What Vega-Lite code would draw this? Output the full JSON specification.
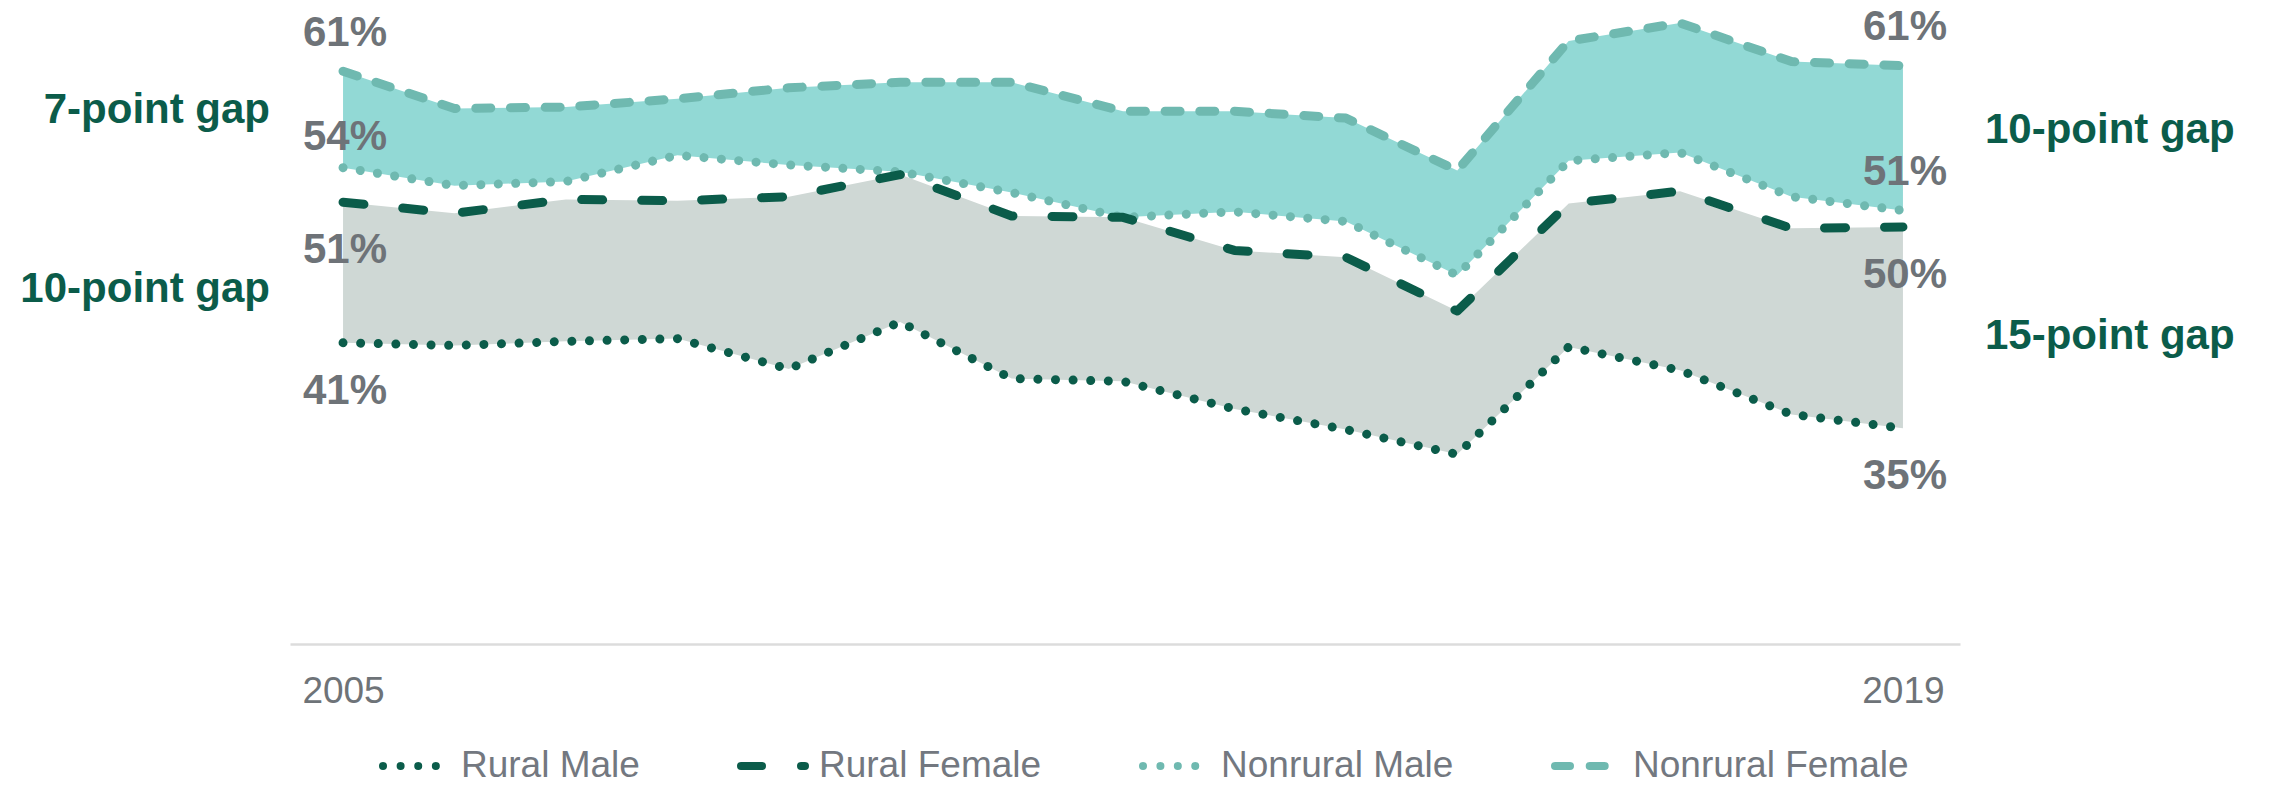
{
  "$schema": "https://vega.github.io/schema/vega-lite/v6.json",
  "width": 1670,
  "height": 644,
  "autosize": {"type": "none"},
  "padding": {"left": 290, "top": 0, "right": 309, "bottom": 142},
  "background": "white",
  "config": {"view": {"stroke": null}, "font": "Liberation Sans"},
  "datasets": {
    "rates": [
      {"year": 2005, "series": "Nonrural Female", "value": 0.609},
      {"year": 2006, "series": "Nonrural Female", "value": 0.582},
      {"year": 2007, "series": "Nonrural Female", "value": 0.583},
      {"year": 2008, "series": "Nonrural Female", "value": 0.589},
      {"year": 2009, "series": "Nonrural Female", "value": 0.597},
      {"year": 2010, "series": "Nonrural Female", "value": 0.601},
      {"year": 2011, "series": "Nonrural Female", "value": 0.601},
      {"year": 2012, "series": "Nonrural Female", "value": 0.580},
      {"year": 2013, "series": "Nonrural Female", "value": 0.580},
      {"year": 2014, "series": "Nonrural Female", "value": 0.575},
      {"year": 2015, "series": "Nonrural Female", "value": 0.537},
      {"year": 2016, "series": "Nonrural Female", "value": 0.631},
      {"year": 2017, "series": "Nonrural Female", "value": 0.644},
      {"year": 2018, "series": "Nonrural Female", "value": 0.616},
      {"year": 2019, "series": "Nonrural Female", "value": 0.613},
      {"year": 2005, "series": "Nonrural Male", "value": 0.539},
      {"year": 2006, "series": "Nonrural Male", "value": 0.526},
      {"year": 2007, "series": "Nonrural Male", "value": 0.529},
      {"year": 2008, "series": "Nonrural Male", "value": 0.548},
      {"year": 2009, "series": "Nonrural Male", "value": 0.541},
      {"year": 2010, "series": "Nonrural Male", "value": 0.536},
      {"year": 2011, "series": "Nonrural Male", "value": 0.521},
      {"year": 2012, "series": "Nonrural Male", "value": 0.503},
      {"year": 2013, "series": "Nonrural Male", "value": 0.507},
      {"year": 2014, "series": "Nonrural Male", "value": 0.500},
      {"year": 2015, "series": "Nonrural Male", "value": 0.461},
      {"year": 2016, "series": "Nonrural Male", "value": 0.544},
      {"year": 2017, "series": "Nonrural Male", "value": 0.550},
      {"year": 2018, "series": "Nonrural Male", "value": 0.518},
      {"year": 2019, "series": "Nonrural Male", "value": 0.508},
      {"year": 2005, "series": "Rural Female", "value": 0.514},
      {"year": 2006, "series": "Rural Female", "value": 0.506},
      {"year": 2007, "series": "Rural Female", "value": 0.516},
      {"year": 2008, "series": "Rural Female", "value": 0.515},
      {"year": 2009, "series": "Rural Female", "value": 0.518},
      {"year": 2010, "series": "Rural Female", "value": 0.534},
      {"year": 2011, "series": "Rural Female", "value": 0.504},
      {"year": 2012, "series": "Rural Female", "value": 0.503},
      {"year": 2013, "series": "Rural Female", "value": 0.479},
      {"year": 2014, "series": "Rural Female", "value": 0.474},
      {"year": 2015, "series": "Rural Female", "value": 0.435},
      {"year": 2016, "series": "Rural Female", "value": 0.513},
      {"year": 2017, "series": "Rural Female", "value": 0.522},
      {"year": 2018, "series": "Rural Female", "value": 0.495},
      {"year": 2019, "series": "Rural Female", "value": 0.496},
      {"year": 2005, "series": "Rural Male", "value": 0.412},
      {"year": 2006, "series": "Rural Male", "value": 0.410},
      {"year": 2007, "series": "Rural Male", "value": 0.413},
      {"year": 2008, "series": "Rural Male", "value": 0.415},
      {"year": 2009, "series": "Rural Male", "value": 0.393},
      {"year": 2010, "series": "Rural Male", "value": 0.427},
      {"year": 2011, "series": "Rural Male", "value": 0.386},
      {"year": 2012, "series": "Rural Male", "value": 0.384},
      {"year": 2013, "series": "Rural Male", "value": 0.364},
      {"year": 2014, "series": "Rural Male", "value": 0.349},
      {"year": 2015, "series": "Rural Male", "value": 0.331},
      {"year": 2016, "series": "Rural Male", "value": 0.409},
      {"year": 2017, "series": "Rural Male", "value": 0.392},
      {"year": 2018, "series": "Rural Male", "value": 0.360},
      {"year": 2019, "series": "Rural Male", "value": 0.350}
    ],
    "gaps": [
      {"year": 2005, "side": "left", "value": 0.5807, "label": "7-point gap"},
      {"year": 2005, "side": "left", "value": 0.4512, "label": "10-point gap"},
      {"year": 2019, "side": "right", "value": 0.5667, "label": "10-point gap"},
      {"year": 2019, "side": "right", "value": 0.4169, "label": "15-point gap"}
    ]
  },
  "data": {"name": "rates"},
  "layer": [
    {
      "transform": [{"pivot": "series", "value": "value", "groupby": ["year"]}],
      "mark": {"type": "area", "color": "#cfd8d5", "opacity": 1},
      "encoding": {
        "x": {
          "field": "year", "type": "quantitative",
          "scale": {"domain": [2004.524, 2019.512], "nice": false, "zero": false},
          "axis": {
            "values": [2005, 2019], "format": "d", "title": null, "grid": false,
            "ticks": false, "tickSize": 0, "labelFontSize": 37, "labelColor": "#6e7378",
            "labelFont": "Liberation Sans", "labelPadding": 29, "labelFlush": false,
            "domainColor": "#dcdcdc", "domainWidth": 2.5
          }
        },
        "y": {
          "field": "Rural Female", "type": "quantitative",
          "scale": {"domain": [0.1934, 0.6607], "nice": false, "zero": false},
          "axis": null
        },
        "y2": {"field": "Rural Male"}
      }
    },
    {
      "transform": [{"pivot": "series", "value": "value", "groupby": ["year"]}],
      "mark": {"type": "area", "color": "#92d9d5", "opacity": 1},
      "encoding": {
        "x": {"field": "year", "type": "quantitative"},
        "y": {"field": "Nonrural Female", "type": "quantitative"},
        "y2": {"field": "Nonrural Male"}
      }
    },
    {
      "mark": {"type": "line", "strokeWidth": 9, "strokeCap": "round", "strokeJoin": "round"},
      "encoding": {
        "x": {"field": "year", "type": "quantitative"},
        "y": {"field": "value", "type": "quantitative"},
        "color": {
          "field": "series", "type": "nominal",
          "scale": {
            "domain": ["Rural Male", "Rural Female", "Nonrural Male", "Nonrural Female"],
            "range": ["#0b5c4a", "#0b5c4a", "#6fb9b0", "#6fb9b0"]
          },
          "legend": {
            "title": null, "orient": "none", "legendX": 89, "legendY": 730,
            "direction": "horizontal", "columns": 4, "padding": 0,
            "labelFontSize": 37, "labelColor": "#737880", "labelFont": "Liberation Sans",
            "labelLimit": 0,
            "symbolType": "stroke", "symbolSize": 4096, "symbolStrokeWidth": 8,
            "columnPadding": 85, "labelOffset": 10,
            "encode": {"symbols": {"update": {"strokeCap": {"value": "round"}}}}
          }
        },
        "strokeDash": {
          "field": "series", "type": "nominal",
          "scale": {
            "domain": ["Rural Male", "Rural Female", "Nonrural Male", "Nonrural Female"],
            "range": [[0.01, 17.6], [21, 39], [0.01, 17.4], [15, 19.7]]
          },
          "legend": {
            "title": null, "orient": "none", "legendX": 89, "legendY": 730,
            "direction": "horizontal", "columns": 4, "padding": 0,
            "labelFontSize": 37, "labelColor": "#737880", "labelFont": "Liberation Sans",
            "labelLimit": 0,
            "symbolType": "stroke", "symbolSize": 4096, "symbolStrokeWidth": 8,
            "columnPadding": 85, "labelOffset": 10,
            "encode": {"symbols": {"update": {"strokeCap": {"value": "round"}}}}
          }
        }
      }
    },
    {
      "transform": [{"filter": "(datum.series == 'Nonrural Female' && (datum.year == 2005 || datum.year == 2019)) || (datum.series == 'Nonrural Male' && datum.year == 2019)"}],
      "mark": {"type": "text", "fontSize": 42, "fontWeight": "bold", "color": "#6e7378", "align": "center", "baseline": "middle", "dy": -38.6, "dx": 2},
      "encoding": {
        "x": {"field": "year", "type": "quantitative"},
        "y": {"field": "value", "type": "quantitative"},
        "text": {"field": "value", "type": "quantitative", "format": ".0%"}
      }
    },
    {
      "transform": [{"filter": "datum.series == 'Nonrural Male' && datum.year == 2005"}],
      "mark": {"type": "text", "fontSize": 42, "fontWeight": "bold", "color": "#6e7378", "align": "center", "baseline": "middle", "dy": -30.6, "dx": 2},
      "encoding": {
        "x": {"field": "year", "type": "quantitative"},
        "y": {"field": "value", "type": "quantitative"},
        "text": {"field": "value", "type": "quantitative", "format": ".0%"}
      }
    },
    {
      "transform": [{"filter": "(datum.series == 'Rural Female' || datum.series == 'Rural Male') && (datum.year == 2005 || datum.year == 2019)"}],
      "mark": {"type": "text", "fontSize": 42, "fontWeight": "bold", "color": "#6e7378", "align": "center", "baseline": "middle", "dy": 47.8, "dx": 2},
      "encoding": {
        "x": {"field": "year", "type": "quantitative"},
        "y": {"field": "value", "type": "quantitative"},
        "text": {"field": "value", "type": "quantitative", "format": ".0%"}
      }
    },
    {
      "data": {"name": "gaps"},
      "transform": [{"filter": "datum.side == 'left'"}],
      "mark": {"type": "text", "fontSize": 42, "fontWeight": "bold", "color": "#0b5c4a", "align": "right", "baseline": "middle", "dx": -73},
      "encoding": {
        "x": {"field": "year", "type": "quantitative"},
        "y": {"field": "value", "type": "quantitative"},
        "text": {"field": "label", "type": "nominal"}
      }
    },
    {
      "data": {"name": "gaps"},
      "transform": [{"filter": "datum.side == 'right'"}],
      "mark": {"type": "text", "fontSize": 42, "fontWeight": "bold", "color": "#0b5c4a", "align": "left", "baseline": "middle", "dx": 82},
      "encoding": {
        "x": {"field": "year", "type": "quantitative"},
        "y": {"field": "value", "type": "quantitative"},
        "text": {"field": "label", "type": "nominal"}
      }
    }
  ]
}
